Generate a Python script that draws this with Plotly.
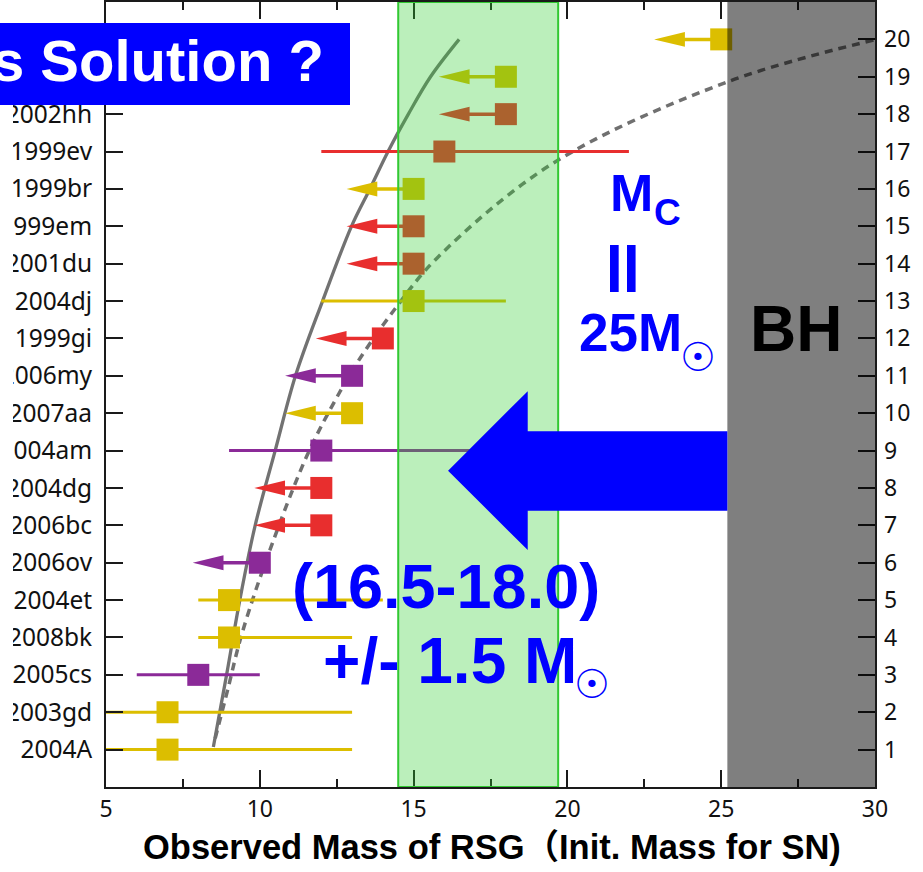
import plotly.graph_objects as go

# Type II-P supernova progenitors, ranked from least to most massive
sn_names = ["2004A", "2003gd", "2005cs", "2008bk", "2004et", "2006ov", "2006bc",
            "2004dg", "2004am", "2007aa", "2006my", "1999gi", "2004dj", "2001du",
            "1999em", "1999br", "1999ev", "2002hh", "1999an", "2003ie"]
rank = list(range(1, 21))
mass = [7, 7, 8, 9, 9, 10, 12, 12, 12, 13, 13, 14, 15, 15, 15, 15, 16, 18, 18, 25]
# mass range for detections; None marks an upper limit
mass_lo = [5, 5, 6, 8, 8, None, None, None, 9, None, None, None, 12, None, None, None, 12, None, None, None]
mass_hi = [13, 13, 10, 13, 14, None, None, None, 19, None, None, None, 18, None, None, None, 22, None, None, None]
group = ["Y", "Y", "P", "Y", "Y", "P", "R", "R", "P", "Y", "P", "R", "Y", "R", "R", "Y", "R", "R", "Y", "Y"]

x_ticks = [5, 10, 15, 20, 25, 30]
rank_ticks = list(range(1, 21))

# expected mass-rank relations
solid_rank = [1.07, 3, 5, 7, 9, 11, 13, 15, 16, 17, 18, 19, 20]
solid_mass = [8.49, 8.92, 9.35, 9.85, 10.5, 11.16, 12.04, 12.98, 13.58, 14.17, 14.83, 15.55, 16.48]
dash_mass = [8.55, 8.98, 9.36, 10.06, 11.52, 12.61, 13.26, 14.45, 15.75, 19.54, 25.23, 29.95]
dash_rank = [1.3, 2.68, 3.93, 5.72, 8.84, 10.58, 11.47, 12.85, 14.14, 16.69, 18.87, 19.98]

COLORS = {"Y": "rgb(220,190,0)", "P": "rgb(139,42,152)", "R": "rgb(232,46,46)"}
ARROW_LEN = 2.18      # length of upper-limit arrows (solar masses)
HEAD_LEN = 1.0        # arrowhead length (solar masses)
HEAD_HALF = 0.2       # arrowhead half-height (rank units)
BAND = (14.5, 19.7)   # shaded mass window
BH_X0 = 25.2          # black hole region starts here

BLUE = "#0000FF"
TXT = "#111111"
label_family = "Noto Sans, Open Sans, sans-serif"

fig = go.Figure()

fig.add_trace(go.Scatter(x=solid_mass, y=solid_rank, mode="lines",
                         line=dict(color="#727272", width=3.3, shape="spline", smoothing=1.0),
                         hoverinfo="skip", showlegend=False))
fig.add_trace(go.Scatter(x=dash_mass, y=dash_rank, mode="lines",
                         line=dict(color="#707070", width=3.5, dash="8px,6px", shape="spline", smoothing=1.0),
                         hoverinfo="skip", showlegend=False))

for g, col in COLORS.items():
    bx, by, sx, sy, hx, hy = [], [], [], [], [], []
    for m, r, lo, hi, gg in zip(mass, rank, mass_lo, mass_hi, group):
        if gg != g:
            continue
        if lo is not None:
            bx += [lo, hi, None]
            by += [r, r, None]
        else:
            tip = m - ARROW_LEN
            sx += [m, tip + HEAD_LEN * 0.9, None]
            sy += [r, r, None]
            hx += [tip, tip + HEAD_LEN, tip + HEAD_LEN, tip, None]
            hy += [r, r + HEAD_HALF, r - HEAD_HALF, r, None]
    if bx:
        fig.add_trace(go.Scatter(x=bx, y=by, mode="lines", line=dict(color=col, width=3),
                                 hoverinfo="skip", showlegend=False))
    if sx:
        fig.add_trace(go.Scatter(x=sx, y=sy, mode="lines", line=dict(color=col, width=3.5),
                                 hoverinfo="skip", showlegend=False))
        fig.add_trace(go.Scatter(x=hx, y=hy, mode="none", fill="toself", fillcolor=col,
                                 hoverinfo="skip", showlegend=False))

fig.add_trace(go.Scatter(x=mass, y=rank, mode="markers",
                         marker=dict(symbol="square", size=22, color=[COLORS[g] for g in group],
                                     line=dict(width=0)),
                         text=sn_names, hoverinfo="text", showlegend=False))

# carrier for the right-hand rank axis
fig.add_trace(go.Scatter(x=[None], y=[None], yaxis="y2", mode="markers",
                         hoverinfo="skip", showlegend=False))

shapes = [
    dict(type="rect", xref="x", yref="y", x0=BAND[0], x1=BAND[1], y0=0, y1=21,
         fillcolor="rgba(50,205,50,0.33)", line=dict(color="rgb(50,200,50)", width=2), layer="above"),
    dict(type="rect", xref="x", yref="y", x0=BH_X0, x1=30, y0=0, y1=21,
         fillcolor="rgba(0,0,0,0.5)", line=dict(width=0), layer="above"),
    dict(type="path", xref="x", yref="y", layer="above", fillcolor=BLUE, line=dict(width=0),
         path=f"M16.12,8.46 L18.71,10.59 L18.71,9.52 L{BH_X0},9.52 L{BH_X0},7.39 L18.71,7.39 L18.71,6.34 Z"),
    # white margin strip at the left page edge
    dict(type="rect", xref="paper", yref="paper", x0=-0.2, x1=-0.1209, y0=-0.12, y1=1.01,
         fillcolor="white", line=dict(width=0), layer="above"),
    dict(type="rect", xref="paper", yref="paper", x0=-0.16, x1=0.3173, y0=0.8688, y1=0.9732,
         fillcolor=BLUE, line=dict(width=0), layer="above"),
]

bold = "Liberation Sans, Arial, sans-serif"
annotations = [
    dict(text="s Solution ?", xref="paper", yref="paper", x=-0.1508, y=0.9261, xanchor="left",
         yanchor="middle", showarrow=False, font=dict(family=bold, size=58, color="white", weight="bold")),
    dict(text="M", xref="x", yref="y", x=22.09, y=15.88, showarrow=False,
         font=dict(family=bold, size=52, color=BLUE, weight="bold")),
    dict(text="C", xref="x", yref="y", x=23.27, y=15.37, showarrow=False,
         font=dict(family=bold, size=37, color=BLUE, weight="bold")),
    dict(text="=", xref="x", yref="y", x=21.87, y=13.86, showarrow=False, textangle=90,
         font=dict(family="DejaVu Sans, sans-serif", size=75, color=BLUE, weight="bold")),
    dict(text="25M", xref="x", yref="y", x=22.05, y=12.15, showarrow=False,
         font=dict(family=bold, size=53, color=BLUE, weight="bold")),
    dict(text="☉", xref="x", yref="y", x=24.25, y=11.50, showarrow=False,
         font=dict(family="DejaVu Sans, sans-serif", size=40, color=BLUE, weight="bold")),
    dict(text="BH", xref="x", yref="y", x=27.43, y=12.24, showarrow=False,
         font=dict(family=bold, size=64, color="black", weight="bold")),
    dict(text="(16.5-18.0)", xref="x", yref="y", x=16.06, y=5.39, showarrow=False,
         font=dict(family=bold, size=63, color=BLUE, weight="bold")),
    dict(text="+/- 1.5 M", xref="x", yref="y", x=16.19, y=3.36, showarrow=False,
         font=dict(family=bold, size=64, color=BLUE, weight="bold")),
    dict(text="☉", xref="x", yref="y", x=20.79, y=2.76, showarrow=False,
         font=dict(family="DejaVu Sans, sans-serif", size=40, color=BLUE, weight="bold")),
    dict(text="Observed Mass of RSG（Init. Mass for SN)", xref="paper", yref="paper",
         x=0.5026, y=-0.076, xanchor="center", yanchor="middle", showarrow=False,
         font=dict(family="Liberation Sans, Noto Sans CJK JP, sans-serif", size=34.5,
                   color="black", weight="bold")),
]

axis_line = dict(showline=True, linewidth=2, linecolor="#1a1a1a", showgrid=False, zeroline=False)

fig.update_layout(
    width=923, height=872,
    margin=dict(l=106, r=48, t=2, b=85, pad=0),
    paper_bgcolor="white", plot_bgcolor="white",
    showlegend=False,
    xaxis=dict(range=[5, 30], tickmode="array", tickvals=x_ticks, ticks="inside", ticklen=17,
               tickwidth=2, tickcolor="#1a1a1a", mirror="ticks",
               tickfont=dict(family=label_family, size=23, color=TXT),
               minor=dict(dtick=2.5, tick0=5, ticks="inside", ticklen=8, tickwidth=2, tickcolor="#1a1a1a"),
               ticklabelstandoff=0, automargin=False, **axis_line),
    yaxis=dict(range=[0, 21], tickmode="array", tickvals=rank_ticks, ticktext=sn_names,
               ticks="inside", ticklen=17, tickwidth=2, tickcolor="#1a1a1a", mirror="ticks",
               tickfont=dict(family=label_family, size=24.5, color=TXT),
               ticklabelstandoff=7, automargin=False, **axis_line),
    yaxis2=dict(range=[0, 21], overlaying="y", side="right", tickmode="array", tickvals=rank_ticks,
                ticks="", showline=False, showgrid=False, zeroline=False,
                tickfont=dict(family=label_family, size=23, color=TXT),
                ticklabelstandoff=8, automargin=False),
    shapes=shapes,
    annotations=annotations,
)

fig.write_html("out.html")
